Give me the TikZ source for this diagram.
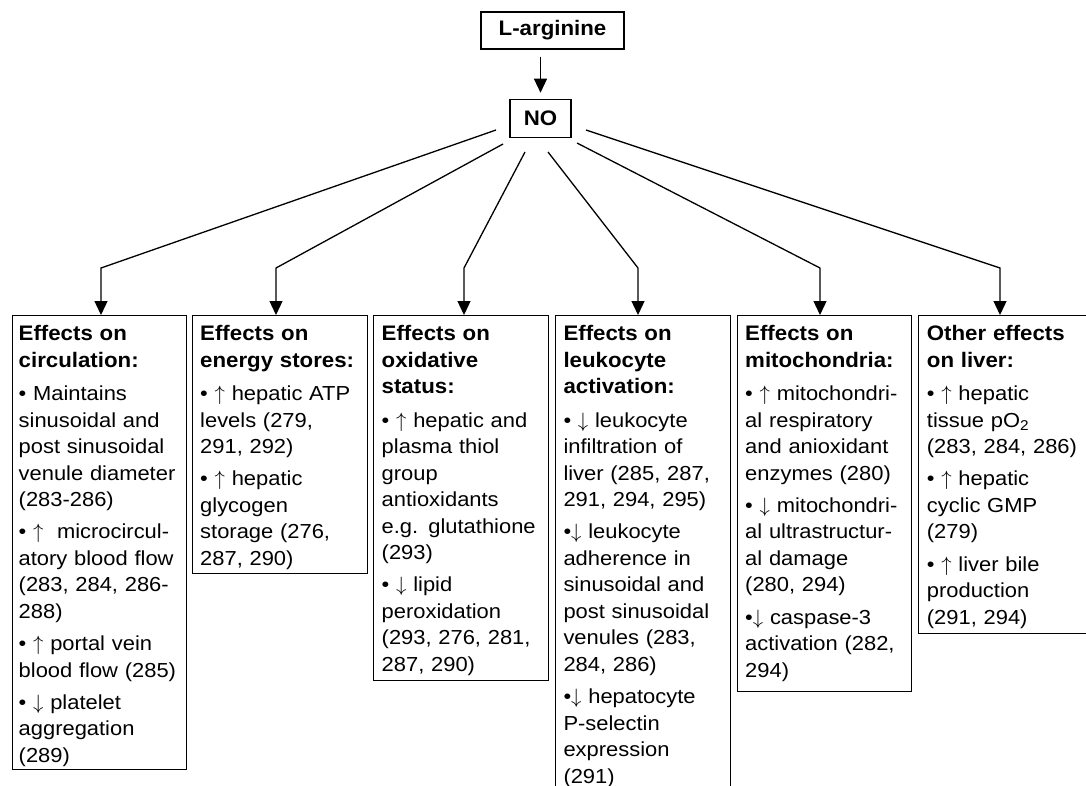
\documentclass[tikz,border=0pt]{standalone}
\usepackage{fontspec}
\setmainfont{Liberation Sans}
\newfontfamily\bdfont{Liberation Sans}[FakeStretch=1.08]
\newfontfamily\hdfont{Liberation Sans}[FakeStretch=1.06]
\usetikzlibrary{arrows.meta}
\newcommand{\up}{$\uparrow$}
\newcommand{\dn}{$\downarrow$}
\begin{document}
\begin{tikzpicture}[x=1pt,y=-1pt,
  boxstyle/.style={draw, line width=1.1pt, anchor=north west, inner sep=0pt, minimum width=#1},
  topbox/.style={draw, line width=1.1pt, inner sep=0pt, font=\hdfont\bfseries\fontsize{21}{26}\selectfont},
  txt/.style={anchor=base west, inner sep=0pt, text width=168pt, align=left, font=\bdfont\fontsize{20.3}{26.5}\selectfont},
  conn/.style={line width=1.3pt, -{Triangle[length=14pt,width=13pt]}},
]
\useasboundingbox (0,0) rectangle (1086,785);
\newcommand{\hd}[1]{{\hdfont\bfseries\fontsize{21}{26.5}\selectfont #1}}

% top nodes
\node[topbox, minimum width=143pt, minimum height=37pt] (larg) at (552.5,30.5) {L-arginine};
\node[topbox, minimum width=61pt, minimum height=38.5pt] (no) at (540.5,118.5) {NO};
\draw[conn, shorten <=7pt, shorten >=6pt] (no.north |- larg.south) -- (no.north);

% boxes
\node[boxstyle=174pt, minimum height=454pt] (b1) at (12,315) {};
\node[boxstyle=175pt, minimum height=258pt] (b2) at (192,315) {};
\node[boxstyle=175pt, minimum height=365pt] (b3) at (373,315) {};
\node[boxstyle=175pt, minimum height=520pt] (b4) at (555,315) {};
\node[boxstyle=174pt, minimum height=376pt] (b5) at (737,315) {};
\node[boxstyle=175pt, minimum height=318pt] (b6) at (918,315) {};

% connectors
\coordinate (s1) at (496,130); \coordinate (k1) at (101,268);
\coordinate (s2) at (503,144); \coordinate (k2) at (276,268);
\coordinate (s3) at (525,152); \coordinate (k3) at (464,268);
\coordinate (s4) at (548,152); \coordinate (k4) at (638,268);
\coordinate (s5) at (577,143); \coordinate (k5) at (820,268);
\coordinate (s6) at (586,130); \coordinate (k6) at (1000,268);
\foreach \i in {1,...,6}{
  \draw[conn, line join=miter] (s\i) -- (k\i) -- (k\i |- b\i.north);
}

% texts
\node[txt] (t1) at (18.5,340.7) {\hd{Effects on\\circulation:}\\[6.8pt]
• Maintains\\sinusoidal and\\post sinusoidal\\venule diameter\\(283-286)\\[5.8pt]
• \up\ \ microcircul-\\atory blood flow\\(283, 284, 286-\\288)\\[5.8pt]
• \up\ portal vein\\blood flow (285)\\[5.8pt]
• \dn\ platelet\\aggregation\\(289)};

\node[txt] (t2) at (200,340.7) {\hd{Effects on\\energy stores:}\\[6.8pt]
• \up\ hepatic ATP\\levels (279,\\291, 292)\\[5.8pt]
• \up\ hepatic\\glycogen\\storage (276,\\287, 290)};

\node[txt] (t3) at (381.5,340.7) {\hd{Effects on\\oxidative\\status:}\\[6.8pt]
• \up\ hepatic and\\plasma thiol\\group\\antioxidants\\e.g. glutathione\\(293)\\[5.8pt]
• \dn\ lipid\\peroxidation\\(293, 276, 281,\\287, 290)};

\node[txt] (t4) at (563.3,340.7) {\hd{Effects on\\leukocyte\\activation:}\\[6.8pt]
• \dn\ leukocyte\\infiltration of\\liver (285, 287,\\291, 294, 295)\\[5.8pt]
•\dn\ leukocyte\\adherence in\\sinusoidal and\\post sinusoidal\\venules (283,\\284, 286)\\[5.8pt]
•\dn\ hepatocyte\\P-selectin\\expression\\(291)};

\node[txt] (t5) at (745,340.7) {\hd{Effects on\\mitochondria:}\\[6.8pt]
• \up\ mitochondri-\\al respiratory\\and anioxidant\\enzymes (280)\\[5.8pt]
• \dn\ mitochondri-\\al ultrastructur-\\al damage\\(280, 294)\\[5.8pt]
•\dn\ caspase-3\\activation (282,\\294)};

\node[txt] (t6) at (926.7,340.7) {\hd{Other effects\\on liver:}\\[6.8pt]
• \up\ hepatic\\tissue pO\textsubscript{2}\\(283, 284, 286)\\[5.8pt]
• \up\ hepatic\\cyclic GMP\\(279)\\[5.8pt]
• \up\ liver bile\\production\\(291, 294)};
\end{tikzpicture}
\end{document}
